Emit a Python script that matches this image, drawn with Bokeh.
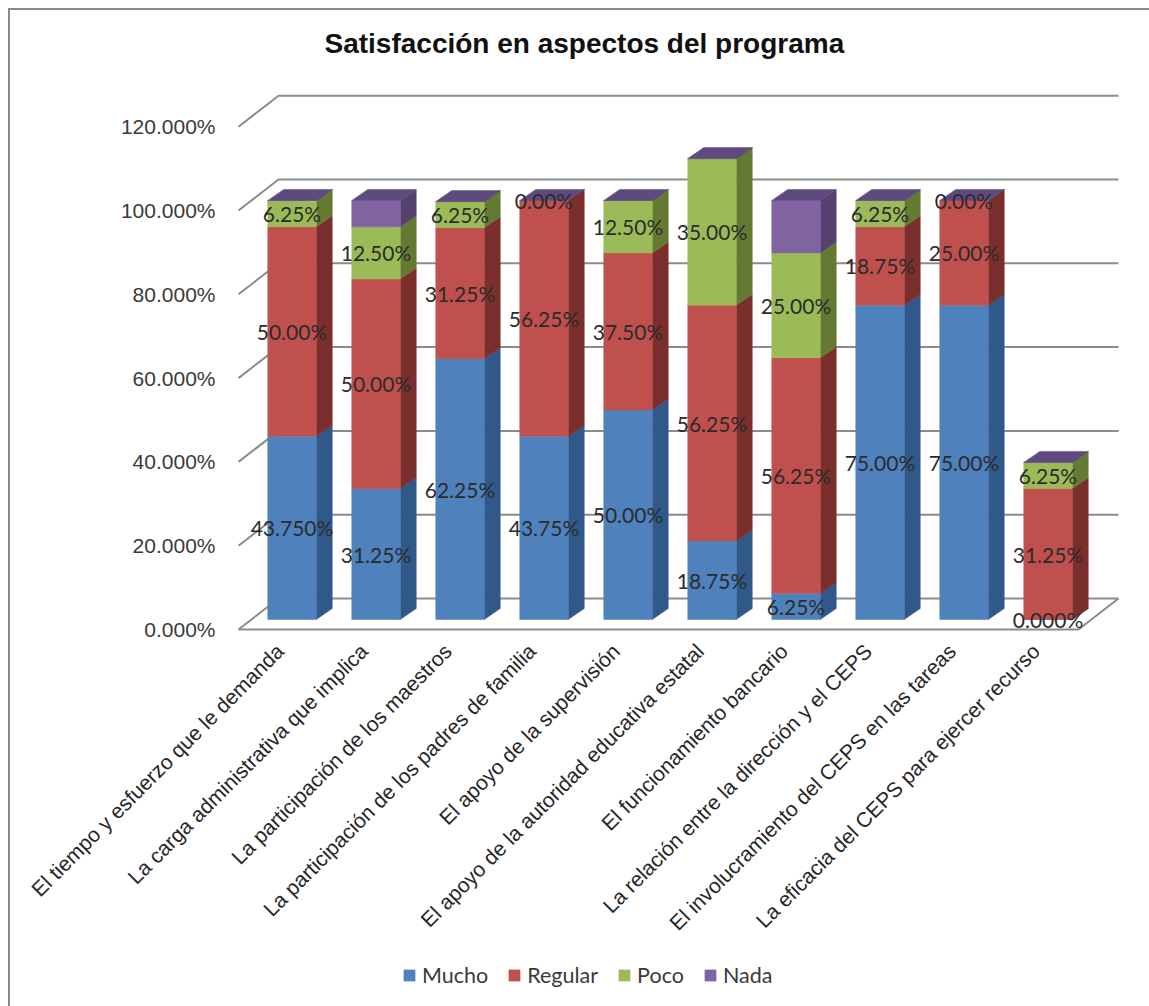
import numpy as np
from bokeh.core.properties import value
from bokeh.embed import file_html
from bokeh.models import (ColumnDataSource, FixedTicker, Legend, LegendItem,
                          LinearAxis, PrintfTickFormatter, Range1d)
from bokeh.plotting import figure
from bokeh.resources import INLINE

categories = [
    "El tiempo y esfuerzo que le demanda",
    "La carga administrativa que implica",
    "La participación de los maestros",
    "La participación de los padres de familia",
    "El apoyo de la supervisión",
    "El apoyo de la autoridad educativa estatal",
    "El funcionamiento bancario",
    "La relación entre la dirección y el CEPS",
    "El involucramiento del CEPS en las tareas",
    "La eficacia del CEPS para ejercer recurso",
]
mucho = [43.75, 31.25, 62.25, 43.75, 50.0, 18.75, 6.25, 75.0, 75.0, 0.0]
regular = [50.0, 50.0, 31.25, 56.25, 37.5, 56.25, 56.25, 18.75, 25.0, 31.25]
poco = [6.25, 12.5, 6.25, 0.0, 12.5, 35.0, 25.0, 6.25, 0.0, 6.25]
nada = [0.0, 6.25, 0.0, 0.0, 0.0, 0.0, 12.5, 0.0, 0.0, 0.0]

mucho_labels = ["43.750%", "31.25%", "62.25%", "43.75%", "50.00%", "18.75%", "6.25%", "75.00%", "75.00%", "0.000%"]
regular_labels = ["50.00%", "50.00%", "31.25%", "56.25%", "37.50%", "56.25%", "56.25%", "18.75%", "25.00%", "31.25%"]
poco_labels = ["6.25%", "12.50%", "6.25%", "0.00%", "12.50%", "35.00%", "25.00%", "6.25%", "0.00%", "6.25%"]

series_names = ["Mucho", "Regular", "Poco", "Nada"]
front_colors = ["#4F81BD", "#C0504D", "#9BBB59", "#8064A2"]
side_colors = ["#30598A", "#7A2F2D", "#647A32", "#54416F"]
top_color = "#5F4A80"
wall_ticks = [0, 20, 40, 60, 80, 100, 120]
grid_color = "#8C8C8C"
text_color = "#3A3A3A"

# Screen geometry of the page
WIDTH, HEIGHT = 1149, 1006
FRAME_TOP = 60
WALL_LEFT_PX, FLOOR_PX, FLOOR_RIGHT_PX = 238, 629, 1078
PX_PER_CAT = 84.0
PX_PER_PCT = 4.19
FIRST_CAT_PX = 291.5
BAR_BASE_PX = 619.0
LABEL_SHIFT_PX = 12

# Projection offsets, in data units
bar_w = 48.5 / PX_PER_CAT
bar_dx, bar_dy = 16 / PX_PER_CAT, 11 / PX_PER_PCT
wall_dx, wall_dy = 40 / PX_PER_CAT, 31 / PX_PER_PCT
axis_shift = (FLOOR_PX - BAR_BASE_PX) / PX_PER_PCT

x_start = -FIRST_CAT_PX / PX_PER_CAT
x_end = (WIDTH - FIRST_CAT_PX) / PX_PER_CAT
y_start = (BAR_BASE_PX - HEIGHT) / PX_PER_PCT
y_end = (BAR_BASE_PX - FRAME_TOP) / PX_PER_PCT

wall_x = (WALL_LEFT_PX - FIRST_CAT_PX) / PX_PER_CAT
floor_right_x = (FLOOR_RIGHT_PX - FIRST_CAT_PX) / PX_PER_CAT
floor_y = -axis_shift

rule = "linear-gradient(#8A8A8A,#8A8A8A)"
p = figure(
    width=WIDTH, height=HEIGHT, output_backend="svg", toolbar_location=None,
    x_range=Range1d(x_start, x_end), y_range=Range1d(y_start, y_end),
    min_border_left=0, min_border_right=0, min_border_top=FRAME_TOP, min_border_bottom=0,
    background_fill_color=None, border_fill_color=None, outline_line_color=None,
    x_axis_location=None, y_axis_location=None,
    styles={
        "background": f"{rule} 8px 8px/2px 100% no-repeat, {rule} 8px 8px/100% 2px no-repeat, white",
    },
)
p.grid.visible = False

p.title.text = "Satisfacción en aspectos del programa"
p.title.align = "left"
p.title.offset = 324
p.title.text_font = "Liberation Sans"
p.title.text_font_style = "bold"
p.title.text_font_size = "28px"
p.title.text_color = "#111111"
p.title.standoff = 4

# Value axis on the front edge of the left wall
p.extra_y_ranges["wall"] = Range1d(y_start + axis_shift, y_end + axis_shift)
wall_axis = LinearAxis(y_range_name="wall", ticker=FixedTicker(ticks=wall_ticks),
                       formatter=PrintfTickFormatter(format="%.3f%%"), fixed_location=wall_x)
wall_axis.axis_line_color = None
wall_axis.major_tick_line_color = None
wall_axis.minor_tick_line_color = None
wall_axis.major_label_standoff = 17
wall_axis.major_label_text_font = "Liberation Sans"
wall_axis.major_label_text_font_size = "21px"
wall_axis.major_label_text_color = text_color
p.add_layout(wall_axis, "left")

# Category axis with slanted labels, nudged left of the column centres
p.extra_x_ranges["labels"] = Range1d(x_start + LABEL_SHIFT_PX / PX_PER_CAT, x_end + LABEL_SHIFT_PX / PX_PER_CAT)
cat_axis = LinearAxis(x_range_name="labels", ticker=FixedTicker(ticks=list(range(len(categories)))),
                      fixed_location=floor_y)
cat_axis.major_label_overrides = {i: c for i, c in enumerate(categories)}
cat_axis.major_label_orientation = np.pi / 4
cat_axis.axis_line_color = None
cat_axis.major_tick_line_color = None
cat_axis.minor_tick_line_color = None
cat_axis.major_label_standoff = 12
cat_axis.major_label_text_font = "Liberation Sans"
cat_axis.major_label_text_font_size = "21px"
cat_axis.major_label_text_color = "#262626"
p.add_layout(cat_axis, "below")

# Back wall, left wall and floor rules
n = len(categories)
back_left = wall_x + wall_dx
back_right = floor_right_x + wall_dx
for tick in wall_ticks:
    y = tick - axis_shift
    p.line([wall_x, back_left, back_right], [y, y + wall_dy, y + wall_dy], line_color=grid_color, line_width=2)
p.line([wall_x, floor_right_x, back_right], [floor_y, floor_y, floor_y + wall_dy], line_color=grid_color, line_width=2)

# Stacked columns: side faces first, then fronts, then the cap
series = [mucho, regular, poco, nada]
x = np.arange(n, dtype=float)
bottom = np.zeros(n)
front_renderers = []
for vals, name, front, side in zip(series, series_names, front_colors, side_colors):
    vals = np.array(vals, dtype=float)
    top = bottom + vals
    right = x + bar_w / 2
    xs = [[r, r + bar_dx, r + bar_dx, r] for r in right]
    ys = [[b, b + bar_dy, t + bar_dy, t] for b, t in zip(bottom, top)]
    p.patches(xs, ys, fill_color=side, line_color=side, line_width=0.5)
    source = ColumnDataSource(dict(x=x, bottom=bottom, top=top))
    front_renderers.append(p.vbar(x="x", width=bar_w, bottom="bottom", top="top", source=source,
                                  fill_color=front, line_color=front, line_width=0.5))
    bottom = top

left_edge = x - bar_w / 2
right_edge = x + bar_w / 2
cap_xs = [[l, l + bar_dx, r + bar_dx, r] for l, r in zip(left_edge, right_edge)]
cap_ys = [[t, t + bar_dy, t + bar_dy, t] for t in bottom]
p.patches(cap_xs, cap_ys, fill_color=top_color, line_color=top_color, line_width=0.5)

# Value labels centred on their own segments
m, r, g = map(lambda a: np.array(a, dtype=float), (mucho, regular, poco))
label_y = np.concatenate([m / 2, m + r / 2, m + r + g / 2])
label_x = np.concatenate([x, x, x])
label_txt = mucho_labels + regular_labels + poco_labels
p.text(label_x, label_y, text=label_txt, text_align="center", text_baseline="middle",
       text_font=value("Lato"), text_font_size="21px", text_color="#2B2B2B")

# Legend row below the slanted labels
legend = Legend(
    items=[LegendItem(label=nm, renderers=[rd]) for nm, rd in zip(series_names, front_renderers)],
    orientation="horizontal", location=(402, 18),
    background_fill_alpha=0, border_line_color=None,
    glyph_width=14, glyph_height=14, label_text_font="Lato", label_text_font_size="21.5px",
    label_text_color=text_color, spacing=19, label_standoff=6, margin=0, padding=0,
)
p.add_layout(legend, "center")

open("out.html", "w").write(file_html(p, INLINE))
